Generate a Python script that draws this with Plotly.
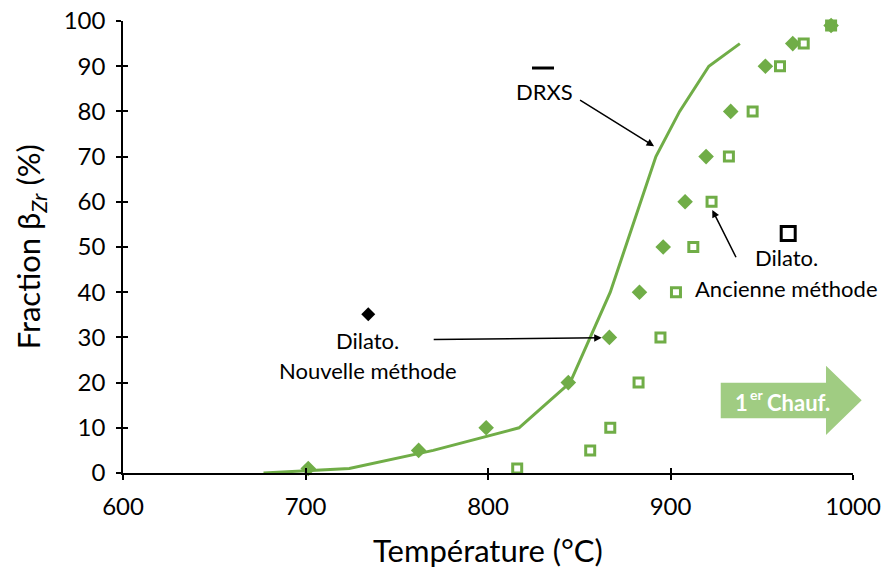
import plotly.graph_objects as go

# DRXS (line)
drxs_T = [677, 724, 770, 817, 845, 867, 892, 905, 921, 938]
drxs_f = [0, 1, 5, 10, 20, 40, 70, 80, 90, 95]

# Dilato. nouvelle méthode (filled diamonds)
new_T = [701.5, 762, 799, 844, 866.5, 883, 896, 908, 919.5, 933, 952, 967, 988]
new_f = [1, 5, 10, 20, 30, 40, 50, 60, 70, 80, 90, 95, 99]

# Dilato. ancienne méthode (open squares)
old_T = [816, 856, 867, 882.5, 894.5, 903, 912.5, 922.5, 932, 945, 960, 973, 988]
old_f = [1, 5, 10, 20, 30, 40, 50, 60, 70, 80, 90, 95, 99]

x_ticks = [600, 700, 800, 900, 1000]
y_ticks = [0, 10, 20, 30, 40, 50, 60, 70, 80, 90, 100]

GREEN = "#70AD47"
FONT = "Lato"

fig = go.Figure()
fig.add_trace(go.Scatter(x=drxs_T, y=drxs_f, mode="lines",
                         line=dict(color=GREEN, width=3), cliponaxis=False))
fig.add_trace(go.Scatter(x=new_T, y=new_f, mode="markers", cliponaxis=False,
                         marker=dict(symbol="diamond", size=12, color=GREEN,
                                     line=dict(width=0))))
fig.add_trace(go.Scatter(x=old_T, y=old_f, mode="markers", cliponaxis=False,
                         marker=dict(symbol="square-open", size=9, color=GREEN,
                                     line=dict(width=3, color=GREEN))))

axis_common = dict(showgrid=False, zeroline=False, showline=True, linecolor="black",
                   linewidth=1.5, ticks="outside", ticklen=5, tickwidth=1.5,
                   tickcolor="black", automargin=False,
                   tickfont=dict(family=FONT, size=24, color="black"))

fig.update_layout(
    width=887, height=569,
    margin=dict(l=123, r=34, t=21, b=96),
    paper_bgcolor="white", plot_bgcolor="white",
    showlegend=False,
    xaxis=dict(range=[600, 1000], tickvals=x_ticks, ticklabelstandoff=6,
               **axis_common),
    yaxis=dict(range=[0, 100], tickvals=y_ticks, ticklabelstandoff=6,
               **axis_common),
    xaxis2=dict(range=[600, 1000], tickvals=x_ticks, overlaying="x", anchor="y",
                showgrid=False, zeroline=False, showline=False, ticks="inside", ticklen=5,
                tickwidth=1.5, tickcolor="black", showticklabels=False),
    yaxis2=dict(range=[0, 100], tickvals=y_ticks, overlaying="y", anchor="x",
                showgrid=False, zeroline=False, showline=False, ticks="inside", ticklen=5,
                tickwidth=1.5, tickcolor="black", showticklabels=False),
)
fig.add_trace(go.Scatter(x=[None], y=[None], xaxis="x2", yaxis="y2", showlegend=False))

ann_font = dict(family=FONT, size=22, color="black")
anns = []
anns.append(dict(x=0.50, y=-0.170, xref="paper", yref="paper", text="Température (°C)",
                 showarrow=False, yanchor="middle",
                 font=dict(family=FONT, size=31, color="black")))
anns.append(dict(x=-0.127, y=0.50, xref="paper", yref="paper",
                 text="Fraction β<sub><i>Zr</i></sub> (%)", textangle=-90,
                 showarrow=False, xanchor="center", yanchor="middle",
                 font=dict(family=FONT, size=31, color="black")))
anns.append(dict(x=831, y=84.3, text="DRXS", showarrow=False, font=ann_font))
anns.append(dict(x=891, y=72.3, ax=-77, ay=-48, text=" ", showarrow=True,
                 arrowhead=2, arrowsize=1, arrowwidth=1.5, arrowcolor="black"))
anns.append(dict(x=734.2, y=29.4, text="Dilato.", showarrow=False, font=ann_font))
anns.append(dict(x=734.2, y=22.6, text="Nouvelle méthode", showarrow=False, font=ann_font))
anns.append(dict(x=862.3, y=29.9, ax=-171, ay=1.6, text=" ", showarrow=True,
                 arrowhead=2, arrowsize=1, arrowwidth=1.5, arrowcolor="black"))
anns.append(dict(x=963.8, y=47.7, text="Dilato.", showarrow=False, font=ann_font))
anns.append(dict(x=963.8, y=40.9, text="Ancienne méthode", showarrow=False, font=ann_font))
anns.append(dict(x=922.9, y=58.2, ax=26.7, ay=53.3, text=" ", showarrow=True,
                 arrowhead=2, arrowsize=1, arrowwidth=1.5, arrowcolor="black"))
# "1er Chauf." inside the big arrow
white_b = dict(family=FONT, color="white", weight="bold")
anns.append(dict(x=0.8360, y=0.157, xref="paper", yref="paper", xanchor="left",
                 yanchor="middle", text="1", showarrow=False, font=dict(size=22, **white_b)))
anns.append(dict(x=0.8555, y=0.1745, xref="paper", yref="paper", xanchor="left",
                 yanchor="middle", text="er", showarrow=False, font=dict(size=14, **white_b)))
anns.append(dict(x=0.8800, y=0.157, xref="paper", yref="paper", xanchor="left",
                 yanchor="middle", text="Chauf.", showarrow=False, font=dict(size=22, **white_b)))
fig.update_layout(annotations=anns)

shapes = []
shapes.append(dict(type="path", xref="paper", yref="paper",
                   path="M 0.8188 0.1210 L 0.9630 0.1210 L 0.9630 0.0841 L 1.0119 0.1607 "
                        "L 0.9630 0.2374 L 0.9630 0.1998 L 0.8188 0.1998 Z",
                   fillcolor="#A0CC82", line=dict(width=0), layer="below"))
shapes.append(dict(type="line", xref="paper", yref="paper", x0=0.5603, x1=0.5904,
                   y0=0.896, y1=0.896, line=dict(color="black", width=3)))
shapes.append(dict(type="path", xref="x", yref="y", xsizemode="pixel", ysizemode="pixel",
                   xanchor=734.4, yanchor=35.1,
                   path="M 0 7 L 7 0 L 0 -7 L -7 0 Z", fillcolor="black",
                   line=dict(width=0)))
shapes.append(dict(type="rect", xref="x", yref="y", xsizemode="pixel", ysizemode="pixel",
                   xanchor=964.5, yanchor=53.0, x0=-7, x1=7, y0=-7, y1=7,
                   fillcolor="rgba(0,0,0,0)", line=dict(color="black", width=3)))
fig.update_layout(shapes=shapes)

fig.write_html("out.html", post_script="document.body.style.margin='0';",
               config={"displayModeBar": False})
